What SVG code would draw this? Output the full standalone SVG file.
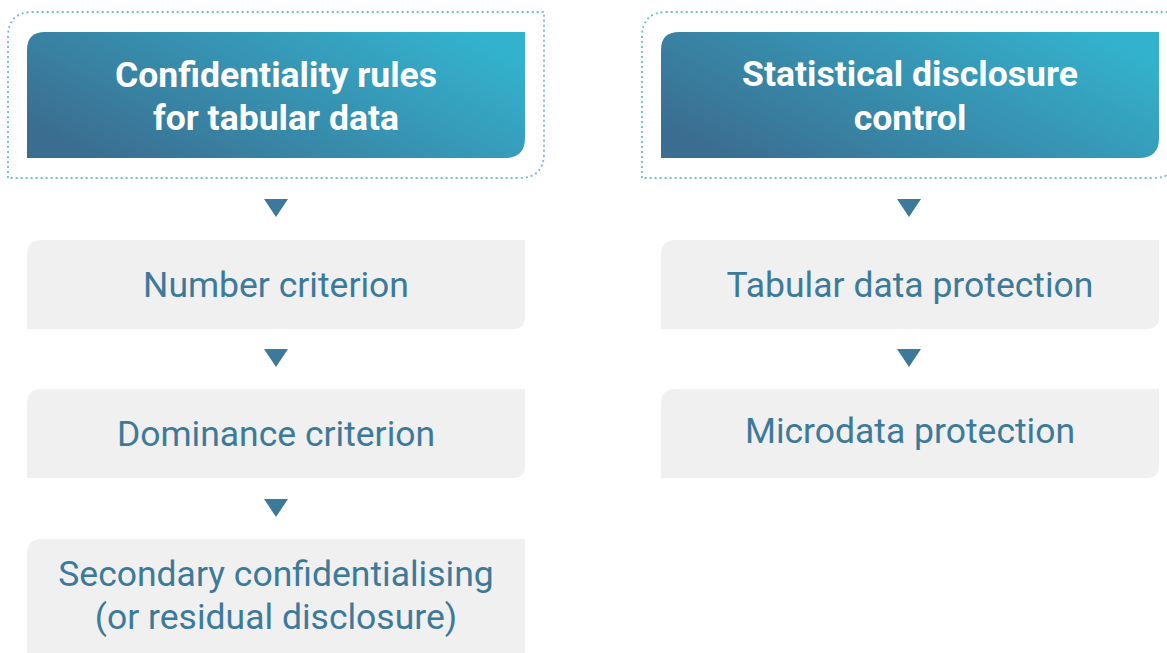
<svg xmlns="http://www.w3.org/2000/svg" width="1167" height="653" viewBox="0 0 1167 653">
<defs>
<linearGradient id="hg" x1="0" y1="0.75" x2="1" y2="0.25">
<stop offset="0" stop-color="#3b6d90"/>
<stop offset="1" stop-color="#33b2cd"/>
</linearGradient>
<style>
.frame{fill:none;stroke:#6dbfc6;stroke-width:1.8;stroke-dasharray:2 3}
.head{fill:url(#hg)}
.htxt{font-family:Roboto,"Liberation Sans",sans-serif;font-weight:bold;font-size:35.6px;fill:#ffffff;text-anchor:middle}
.box{fill:#f0f0f0}
.btxt{font-family:Roboto,"Liberation Sans",sans-serif;font-size:35.5px;fill:#3d7a9a;text-anchor:middle}
.arr{fill:#3d7a9a}
</style>
</defs>
<rect width="1167" height="653" fill="#ffffff"/>
<g id="frame-left">
<path class="frame" d="M8,178 V37 Q8,12 33,12 H544 V153 Q544,178 519,178 Z"/>
</g>
<g id="frame-right">
<path class="frame" d="M642,178 V37 Q642,12 667,12 H1178 V153 Q1178,178 1153,178 Z"/>
</g>
<g id="head-left">
<path class="head" d="M27,158 V50 Q27,32 45,32 H525 V138 Q525,158 505,158 Z"/>
<text class="htxt" x="276" y="87">Confidentiality rules</text>
<text class="htxt" x="276" y="130">for tabular data</text>
</g>
<g id="head-right">
<path class="head" d="M661,158 V50 Q661,32 679,32 H1159 V138 Q1159,158 1139,158 Z"/>
<text class="htxt" x="910" y="86">Statistical disclosure</text>
<text class="htxt" x="910" y="130">control</text>
</g>
<g id="number-criterion">
<path class="box" d="M27,329 V255 Q27,240 42,240 H525 V317 Q525,329 513,329 Z"/>
<text class="btxt" x="276" y="297">Number criterion</text>
</g>
<g id="dominance-criterion">
<path class="box" d="M27,478 V404 Q27,389 42,389 H525 V466 Q525,478 513,478 Z"/>
<text class="btxt" x="276" y="446">Dominance criterion</text>
</g>
<g id="secondary">
<path class="box" d="M27,653 V554 Q27,539 42,539 H525 V653 Z"/>
<text class="btxt" x="276" y="586">Secondary confidentialising</text>
<text class="btxt" x="276" y="629">(or residual disclosure)</text>
</g>
<g id="tabular-protection">
<path class="box" d="M661,329 V255 Q661,240 676,240 H1159 V317 Q1159,329 1147,329 Z"/>
<text class="btxt" x="910" y="297">Tabular data protection</text>
</g>
<g id="microdata-protection">
<path class="box" d="M661,478 V404 Q661,389 676,389 H1159 V466 Q1159,478 1147,478 Z"/>
<text class="btxt" x="910" y="443">Microdata protection</text>
</g>
<g id="connectors">
<polygon class="arr" points="264,199 288,199 276,217"/>
<polygon class="arr" points="264,349 288,349 276,367"/>
<polygon class="arr" points="264,499 288,499 276,517"/>
<polygon class="arr" points="897,199 921,199 909,217"/>
<polygon class="arr" points="897,349 921,349 909,367"/>
</g>
</svg>
